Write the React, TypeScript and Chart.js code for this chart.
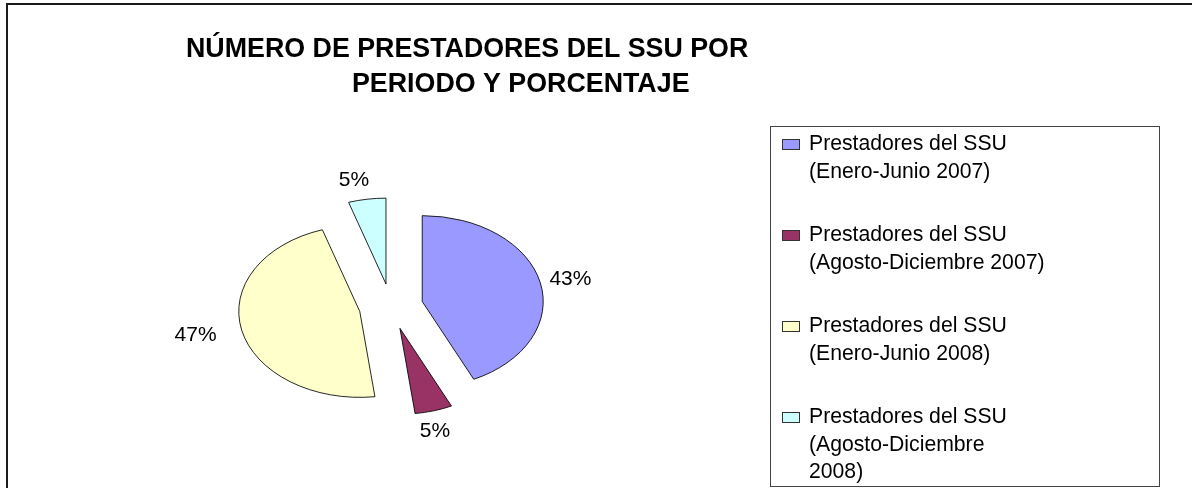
import React, { useEffect, useRef } from "react";
import { Chart, registerables } from "chart.js";

Chart.register(...registerables);

// ---- data ----
const titleLines: string[] = ["NÚMERO DE PRESTADORES DEL SSU POR", "PERIODO Y PORCENTAJE"];
const categories: string[][] = [
  ["Prestadores del SSU", "(Enero-Junio 2007)"],
  ["Prestadores del SSU", "(Agosto-Diciembre 2007)"],
  ["Prestadores del SSU", "(Enero-Junio 2008)"],
  ["Prestadores del SSU", "(Agosto-Diciembre", "2008)"],
];
const values: number[] = [43, 5, 47, 5];
const colors: string[] = ["#9999FF", "#993366", "#FFFFCC", "#CCFFFF"];

// ---- style constants ----
const FONT = "'Liberation Sans', Arial, sans-serif";
const SQUASH = 0.71;
const EXPLODE = 32;
const RADIUS = 121;
const LABEL_GAP = 18;
const LABEL_SHIFT_X = -8;

const piePlugin = {
  id: "ellipsePie",
  beforeDatasetsDraw(chart: any) {
    const { ctx, chartArea } = chart;
    const cx = (chartArea.left + chartArea.right) / 2;
    const cy = (chartArea.top + chartArea.bottom) / 2;
    const meta = chart.getDatasetMeta(0);
    meta.data.forEach((arc: any) => {
      const mid = (arc.startAngle + arc.endAngle) / 2;
      arc.x = cx + Math.cos(mid) * EXPLODE;
      arc.y = cy + Math.sin(mid) * EXPLODE;
    });
    ctx.save();
    ctx.translate(cx, cy);
    ctx.scale(1, SQUASH);
    ctx.translate(-cx, -cy);
  },
  afterDatasetsDraw(chart: any) {
    const { ctx, chartArea } = chart;
    ctx.restore();
    const cx = (chartArea.left + chartArea.right) / 2;
    const cy = (chartArea.top + chartArea.bottom) / 2;
    const meta = chart.getDatasetMeta(0);
    const data = chart.data.datasets[0].data as number[];
    const total = data.reduce((a, b) => a + b, 0);
    ctx.save();
    ctx.font = `21px ${FONT}`;
    ctx.fillStyle = "#000";
    ctx.textAlign = "center";
    ctx.textBaseline = "middle";
    meta.data.forEach((arc: any, i: number) => {
      const mid = (arc.startAngle + arc.endAngle) / 2;
      const ux = Math.cos(mid);
      const uy = Math.sin(mid);
      const text = Math.round((data[i] / total) * 100) + "%";
      const w = ctx.measureText(text).width;
      const h = 15;
      const r = arc.outerRadius + EXPLODE + LABEL_GAP;
      const px = cx + LABEL_SHIFT_X + ux * r + ux * (w / 2);
      const py = cy + uy * r * SQUASH + uy * (h / 2);
      ctx.fillText(text, px, py + 1);
    });
    ctx.restore();
  },
  afterDraw(chart: any) {
    const { ctx } = chart;
    ctx.save();
    // outer frame
    ctx.strokeStyle = "#1a1a1a";
    ctx.lineWidth = 2;
    ctx.strokeRect(7, 4, 1300, 700);
    // title
    ctx.fillStyle = "#000";
    ctx.font = `bold 26.8px ${FONT}`;
    ctx.textAlign = "left";
    ctx.textBaseline = "alphabetic";
    ctx.fillText(titleLines[0], 186, 57);
    ctx.fillText(titleLines[1], 352, 92);
    // legend box
    ctx.strokeStyle = "#444";
    ctx.lineWidth = 1;
    ctx.strokeRect(770.5, 126.5, 389, 360);
    ctx.font = `21.2px ${FONT}`;
    const labels = chart.data.labels as string[][];
    labels.forEach((lines, i) => {
      const base = 150 + i * 91;
      ctx.fillStyle = colors[i];
      ctx.fillRect(782, base - 11, 18, 11);
      ctx.strokeStyle = "#333";
      ctx.strokeRect(782.5, base - 10.5, 17, 10);
      ctx.fillStyle = "#000";
      lines.forEach((ln, j) => {
        ctx.fillText(ln, 809, base + j * 27.5);
      });
    });
    ctx.restore();
  },
};

export default function App() {
  const ref = useRef<HTMLCanvasElement | null>(null);
  useEffect(() => {
    document.body.style.margin = "0";
    if (!ref.current) return;
    const chart = new Chart(ref.current, {
      type: "pie",
      data: {
        labels: categories,
        datasets: [
          {
            data: values,
            backgroundColor: colors,
            borderColor: "#000",
            borderWidth: 1,
            radius: RADIUS,
            hoverOffset: 0,
            clip: false,
          } as any,
        ],
      },
      options: {
        responsive: false,
        animation: false,
        events: [],
        devicePixelRatio: 1,
        layout: { padding: { left: 200, right: 610, top: 160, bottom: 35 } },
        plugins: {
          legend: { display: false },
          tooltip: { enabled: false },
          title: { display: false },
        },
      },
      plugins: [piePlugin],
    });
    return () => chart.destroy();
  }, []);
  return (
    <div style={{ position: "absolute", left: 0, top: 0, width: 1192, height: 488, background: "#fff" }}>
      <canvas ref={ref} width={1192} height={488} />
    </div>
  );
}
